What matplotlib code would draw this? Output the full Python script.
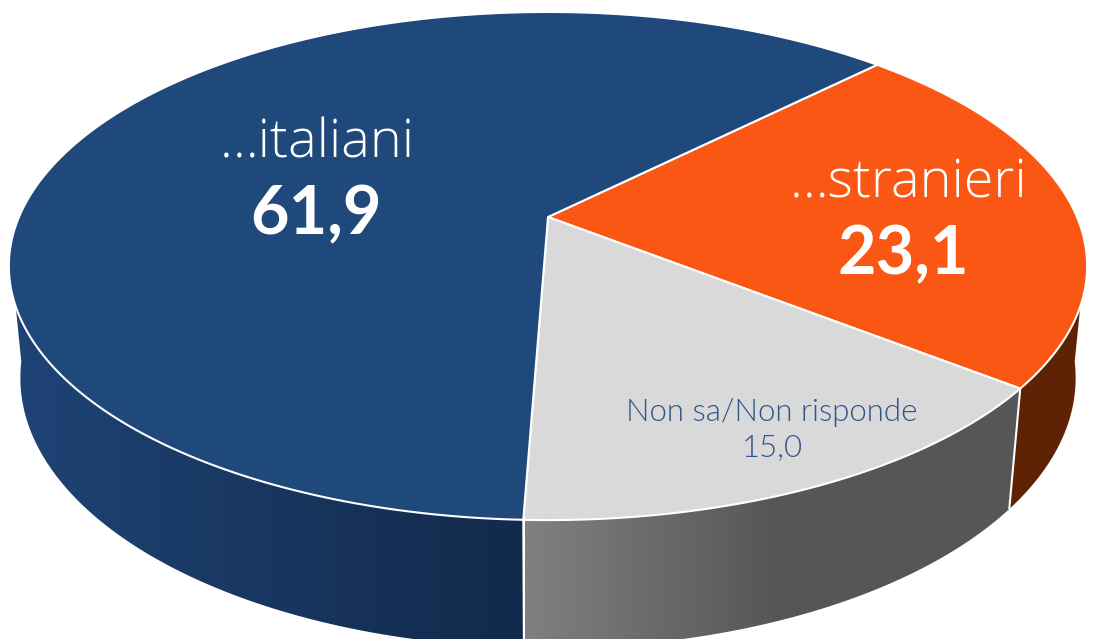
import numpy as np
import matplotlib
matplotlib.use("Agg")
import matplotlib.pyplot as plt
from matplotlib.patches import Polygon
from matplotlib.colors import LinearSegmentedColormap

# data
labels = ["…stranieri", "Non sa/Non risponde", "…italiani"]
values = [23.1, 15.0, 61.9]
value_labels = ["23,1", "15,0", "61,9"]

# style
top_colors = ["#F95713", "#D9D9D9", "#1F487B"]
side_ramps = [["#5E2204", "#5E2204"],
              ["#808080", "#565656", "#565656"],
              ["#1E4476", "#12294A"]]
side_ramp_x = [(1000, 1090), (525, 1030), (5, 530)]
START_ANGLE = 45.0       # degrees clockwise from top
VISIBLE = (97.5, 262.5)  # part of the wall that faces the viewer

# perspective projection of the pie, in pixels
CX, CY, A, K, P = 548.0, 217.0, 529.0, 0.193, -202.7
DEPTH_W, DEPTH_Y = 0.021, 116.8


def project(theta_deg, lower=False):
    t = np.radians(theta_deg)
    x, y = np.sin(t), np.cos(t)
    w = 1 + K * y + (DEPTH_W if lower else 0)
    return np.column_stack([CX + A * x / w,
                            (P * y + CY + (DEPTH_Y if lower else 0)) / w])


fig = plt.figure(figsize=(10.93, 6.39), dpi=100)
ax = fig.add_axes([0, 0, 1, 1])
ax.axis("off")

bounds = START_ANGLE + np.cumsum([0] + values) * 3.6

# side wall
for i in range(3):
    a0 = max(bounds[i], VISIBLE[0])
    a1 = min(bounds[i + 1], VISIBLE[1])
    th = np.linspace(a0, a1, 300)
    pts = np.vstack([project(th), project(th[::-1], lower=True)])
    clip = Polygon(pts, closed=True, facecolor="none", edgecolor="none",
                   transform=ax.transData)
    ax.add_patch(clip)
    cmap = LinearSegmentedColormap.from_list("r", side_ramps[i])
    x0, x1 = side_ramp_x[i]
    im = ax.imshow(np.linspace(0, 1, 256)[None, :], cmap=cmap, vmin=0, vmax=1,
                   extent=[x0, x1, 660, 250], aspect="auto", zorder=1,
                   interpolation="bilinear")
    im.set_clip_path(clip)

# white seams on the wall
for b in bounds[1:3]:
    top, low = project(b), project(b, lower=True)
    ax.plot([top[0, 0], low[0, 0]], [top[0, 1], low[0, 1]], color="white",
            lw=1.5, zorder=2, solid_capstyle="butt")

# top face
for i in range(3):
    th = np.linspace(bounds[i], bounds[i + 1], 400)
    pts = np.vstack([[CX, CY], project(th)])
    ax.add_patch(Polygon(pts, closed=True, facecolor=top_colors[i],
                         edgecolor="white", lw=1.5, joinstyle="round", zorder=3))

font = "Lato"
wide = "Open Sans"
W = "white"
ax.text(317, 157, labels[2], color=W, fontsize=39, family=wide, weight=300,
        ha="center", va="baseline", zorder=5)
ax.text(316, 234, value_labels[2], color=W, fontsize=48, family=font, weight="bold",
        ha="center", va="baseline", zorder=5)
ax.text(909, 198, labels[0], color=W, fontsize=39, family=wide, weight=300,
        ha="center", va="baseline", zorder=5)
ax.text(903, 274, value_labels[0], color=W, fontsize=48, family=font, weight="bold",
        ha="center", va="baseline", zorder=5)
ax.text(772, 421, labels[1], color="#2F5688", fontsize=22.5, family=font, weight=300,
        ha="center", va="baseline", zorder=5)
ax.text(772, 456, value_labels[1], color="#2F5688", fontsize=22.5, family=font, weight=300,
        ha="center", va="baseline", zorder=5)

ax.set_xlim(0, 1093)
ax.set_ylim(639, 0)
fig.savefig("out.png", dpi=100, facecolor="white")
